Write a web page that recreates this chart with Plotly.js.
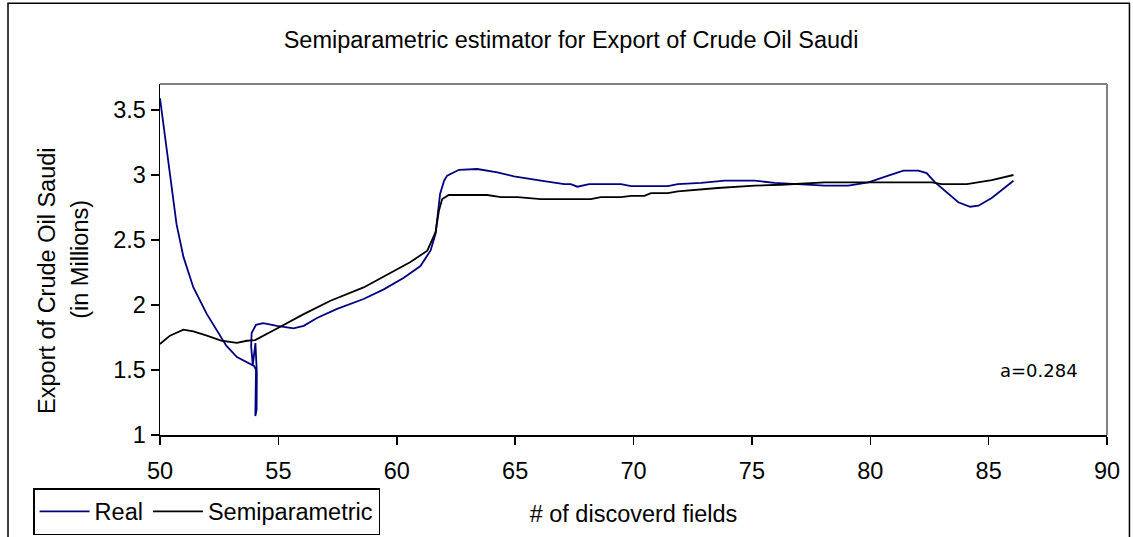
<!DOCTYPE html>
<html>
<head>
<meta charset="utf-8">
<script src="https://cdn.plot.ly/plotly-3.0.1.min.js"></script>
<style>html,body{margin:0;padding:0;background:#fff;}#chart{width:1133px;height:537px;}</style>
</head>
<body>
<div id="chart"></div>
<script>
// Real series (# of discovered fields vs export, millions)
const realX = [50.0, 50.28, 50.7, 50.99, 51.41, 51.98, 52.4, 52.8, 53.25, 53.67, 53.97,
  54.055, 54.027, 54.08, 54.09, 54.03, 53.92, 53.85, 53.87, 54.055, 54.36,
  54.94, 55.64, 56.07, 56.63, 57.48, 58.6, 59.45, 60.3, 61.0, 61.43, 61.64, 61.74, 61.83, 62.0,
  62.13, 62.63, 63.4, 64.25, 64.95, 66.09, 67.07, 67.35, 67.63, 68.13, 69.47, 69.9, 71.45, 71.87,
  72.86, 73.85, 75.12, 75.96, 77.09, 78.08, 79.07, 79.92, 80.76, 81.4, 82.03, 82.38, 82.74, 83.3,
  83.72, 84.22, 84.57, 85.13, 85.63, 86.05];
const realY = [3.59, 3.21, 2.62, 2.37, 2.135, 1.93, 1.80, 1.687, 1.60, 1.56, 1.532,
  1.501, 1.146, 1.193, 1.476, 1.707, 1.54, 1.68, 1.784, 1.848, 1.861,
  1.84, 1.82, 1.84, 1.90, 1.97, 2.046, 2.12, 2.21, 2.30, 2.42, 2.55, 2.70, 2.854, 2.956,
  2.995, 3.04, 3.046, 3.02, 2.99, 2.956, 2.93, 2.93, 2.91, 2.93, 2.93, 2.915, 2.915, 2.93,
  2.94, 2.956, 2.956, 2.94, 2.93, 2.918, 2.918, 2.943, 2.995, 3.033, 3.033, 3.015, 2.943, 2.854,
  2.79, 2.756, 2.764, 2.823, 2.892, 2.956];

// Semiparametric series
const semiX = [50.0, 50.42, 50.99, 51.41, 51.98, 52.61, 53.25, 53.67, 54.02, 54.52, 55.08, 56.07,
  57.2, 58.6, 59.74, 60.58, 61.29, 61.64, 61.78, 61.92, 62.2, 63.82, 64.4, 65.1, 66.09, 68.2,
  68.62, 69.47, 69.9, 70.46, 70.74, 71.45, 71.87, 73.56, 75.12, 76.24, 78.08, 82.6, 83.02, 84.08,
  85.13, 86.05];
const semiY = [1.70, 1.764, 1.81, 1.797, 1.764, 1.725, 1.708, 1.725, 1.73, 1.777, 1.833, 1.93,
  2.033, 2.135, 2.25, 2.33, 2.418, 2.56, 2.725, 2.815, 2.846, 2.846, 2.83, 2.83, 2.815, 2.815,
  2.83, 2.83, 2.84, 2.84, 2.86, 2.86, 2.874, 2.90, 2.918, 2.925, 2.943, 2.943, 2.93, 2.93,
  2.96, 3.0];

const seriesNames = ["Real", "Semiparametric"];
const titleText = "Semiparametric estimator for Export of Crude Oil Saudi";
const xTitle = "# of discoverd fields";
const yTitleLines = ["Export of Crude Oil Saudi", "(in Millions)"];
const noteText = "a=0.284";

const FONT = "Liberation Sans, Arial, sans-serif";
const FS = 23.5;

const traces = [
  {x: realX, y: realY, name: seriesNames[0], type: "scatter", mode: "lines",
   line: {color: "#000080", width: 1.8}},
  {x: semiX, y: semiY, name: seriesNames[1], type: "scatter", mode: "lines",
   line: {color: "#000000", width: 1.8}}
];

const layout = {
  width: 1133, height: 537,
  margin: {l: 160, r: 26, t: 84, b: 102, autoexpand: false},
  paper_bgcolor: "#ffffff", plot_bgcolor: "#ffffff",
  font: {family: FONT, size: FS, color: "#000"},
  title: {text: titleText, font: {family: FONT, size: FS, color: "#000"},
          x: 0.504, xref: "container", y: 0.9255, yref: "container", xanchor: "center", yanchor: "middle"},
  xaxis: {range: [50, 90], dtick: 5, tick0: 50, showgrid: false, zeroline: false, automargin: false,
          showline: true, linecolor: "#000", linewidth: 1.5,
          ticks: "outside", ticklen: 8, tickcolor: "#000", tickwidth: 1.5,
          ticklabelstandoff: 6,
          tickfont: {family: FONT, size: FS},
          title: {text: xTitle, font: {family: FONT, size: FS}, standoff: 23}},
  yaxis: {range: [1, 3.7], dtick: 0.5, tick0: 1, showgrid: false, zeroline: false, automargin: false,
          showline: true, linecolor: "#000", linewidth: 1.5,
          ticks: "outside", ticklen: 8, tickcolor: "#000", tickwidth: 1.5,
          tickfont: {family: FONT, size: FS}},
  showlegend: true,
  legend: {orientation: "h", x: -0.134, y: -0.151, xanchor: "left", yanchor: "top",
           bordercolor: "#000", borderwidth: 1.5, bgcolor: "#fff", itemwidth: 50,
           font: {family: FONT, size: FS}},
  annotations: [
    {text: yTitleLines[0], xref: "paper", yref: "paper", x: -0.1193, y: 0.439, textangle: -90,
     xanchor: "center", yanchor: "middle", showarrow: false,
     font: {family: FONT, size: FS, color: "#000"}},
    {text: yTitleLines[1], xref: "paper", yref: "paper", x: -0.0845, y: 0.502, textangle: -90,
     xanchor: "center", yanchor: "middle", showarrow: false,
     font: {family: FONT, size: FS, color: "#000"}},
    {text: noteText, xref: "paper", yref: "paper", x: 0.928, y: 0.185,
     xanchor: "center", yanchor: "middle", showarrow: false,
     font: {family: "DejaVu Sans, Verdana, sans-serif", size: 18, color: "#000"}}
  ],
  shapes: [
    {type: "line", xref: "paper", yref: "paper", x0: 0, x1: 1, y0: 1, y1: 1,
     line: {color: "#808080", width: 2}},
    {type: "line", xref: "paper", yref: "paper", x0: 1, x1: 1, y0: 0, y1: 1,
     line: {color: "#808080", width: 2}},
    {type: "rect", xref: "paper", yref: "paper", x0: -0.1605, x1: 1.0237, y0: -0.5, y1: 1.2304,
     line: {color: "#000", width: 1.5}, fillcolor: "rgba(0,0,0,0)"}
  ]
};

Plotly.newPlot("chart", traces, layout, {displayModeBar: false, staticPlot: true});
</script>
</body>
</html>
